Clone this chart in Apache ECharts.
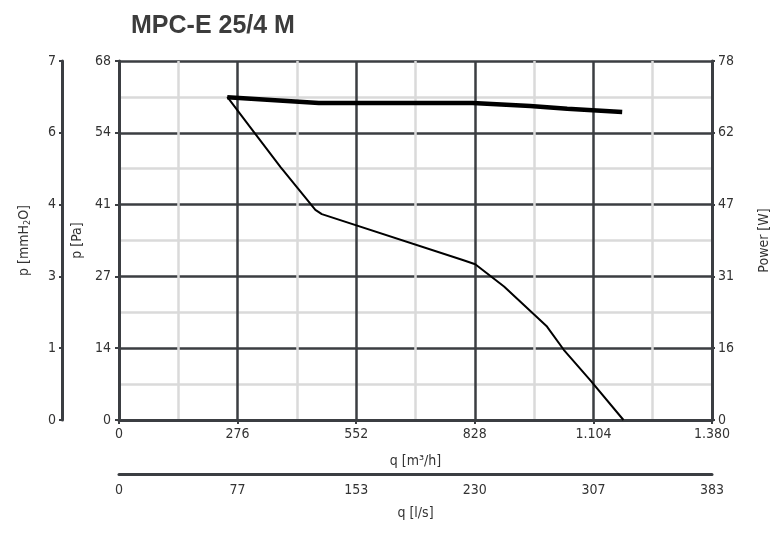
<!DOCTYPE html>
<html><head><meta charset="utf-8">
<script src="https://cdn.jsdelivr.net/npm/echarts@6/dist/echarts.min.js"></script>
<style>html,body{margin:0;padding:0;background:#fff}#c{width:783px;height:533px}</style>
</head><body><div id="c"></div>
<script>
var titleText = 'MPC-E 25/4 M';
var flowMax = 1380;          // m3/h
var flowLsMax = 383.33;      // l/s
var paMax = 68;              // Pa
var mmMax = 6.934;           // mmH2O
var powerMax = 78;           // W
var pressureCurve = [[252,61.2],[303,55.7],[376,47.9],[457,39.8],[472,39.0],[800,30.3],[829,29.5],[896,25.3],[996,17.7],[1035,13.3],[1096,7.6],[1174,0]];
var powerCurve = [[252,70.1],[465,68.9],[823,68.9],[957,68.2],[1043,67.6],[1171,66.9]];

var FONT = '"Liberation Sans Narrow","DejaVu Sans Condensed","Liberation Sans",sans-serif';
var dark = '#3b3e42';
var lbl = {color:'#333', fontFamily:FONT, fontSize:14};
function dots(v){return Math.round(v).toString().replace(/\B(?=(\d{3})+(?!\d))/g,'.');}
function rnd(v){return String(Math.round(v));}

var chart = echarts.init(document.getElementById('c'));
chart.setOption({
  animation:false,
  title:{text:titleText,left:126,top:9,textStyle:{fontFamily:'"Liberation Sans",Arial,sans-serif',fontWeight:'bold',fontSize:25,color:'#3c3c3c'}},
  grid:{left:119,right:71,top:61,bottom:113},
  xAxis:[
    {type:'value',min:0,max:flowMax,interval:flowMax/5,position:'bottom',
     name:'q [m³/h]',nameLocation:'middle',nameGap:34,nameTextStyle:lbl,
     axisLine:{show:true,onZero:false,lineStyle:{color:dark,width:3}},
     axisTick:{show:true,length:4,lineStyle:{color:dark,width:2}},
     axisLabel:Object.assign({margin:7,formatter:dots},lbl),
     splitLine:{show:true,lineStyle:{color:dark,width:2.5}},
     minorTick:{show:false,splitNumber:2},
     minorSplitLine:{show:true,lineStyle:{color:'#dadada',width:2.5}}},
    {type:'value',min:0,max:flowLsMax,interval:flowLsMax/5,position:'bottom',offset:54,
     name:'q [l/s]',nameLocation:'middle',nameGap:32,nameTextStyle:lbl,
     axisLine:{show:true,onZero:false,lineStyle:{color:dark,width:3}},
     axisTick:{show:false},
     axisLabel:Object.assign({margin:9,formatter:rnd},lbl),
     splitLine:{show:false}}
  ],
  yAxis:[
    {type:'value',min:0,max:paMax,interval:paMax/5,position:'left',
     name:'p [Pa]',nameLocation:'middle',nameGap:30,nameRotate:90,nameTextStyle:lbl,
     axisLine:{show:true,onZero:false,lineStyle:{color:dark,width:3}},
     axisTick:{show:true,length:4,lineStyle:{color:dark,width:2}},
     axisLabel:Object.assign({margin:8,formatter:rnd},lbl),
     splitLine:{show:true,lineStyle:{color:dark,width:2.5}},
     minorTick:{show:false,splitNumber:2},
     minorSplitLine:{show:true,lineStyle:{color:'#dadada',width:2.5}}},
    {type:'value',min:0,max:mmMax,interval:mmMax/5,position:'left',offset:57,
     name:'{a|p [mmH}{s|2}{a|O]}',nameLocation:'middle',nameGap:30,nameRotate:90,
     nameTextStyle:{rich:{a:{color:'#333',fontFamily:FONT,fontSize:14},s:{color:'#333',fontFamily:FONT,fontSize:9,verticalAlign:'bottom',padding:[6,0,0,0]}}},
     axisLine:{show:true,onZero:false,lineStyle:{color:dark,width:3}},
     axisTick:{show:true,length:3,lineStyle:{color:dark,width:2}},
     axisLabel:Object.assign({margin:6,formatter:rnd},lbl),
     splitLine:{show:false}},
    {type:'value',min:0,max:powerMax,interval:powerMax/5,position:'right',
     name:'Power [W]',nameLocation:'middle',nameGap:45,nameRotate:90,nameTextStyle:lbl,
     axisLine:{show:true,onZero:false,lineStyle:{color:dark,width:3}},
     axisTick:{show:true,length:3,lineStyle:{color:dark,width:2}},
     axisLabel:Object.assign({margin:6,formatter:rnd},lbl),
     splitLine:{show:false}}
  ],
  series:[
    {type:'line',xAxisIndex:0,yAxisIndex:0,data:pressureCurve,showSymbol:false,symbol:'none',
     lineStyle:{color:'#000',width:2},z:5},
    {type:'line',xAxisIndex:0,yAxisIndex:2,data:powerCurve,showSymbol:false,symbol:'none',
     lineStyle:{color:'#000',width:4.5},z:6}
  ]
});
</script></body></html>
